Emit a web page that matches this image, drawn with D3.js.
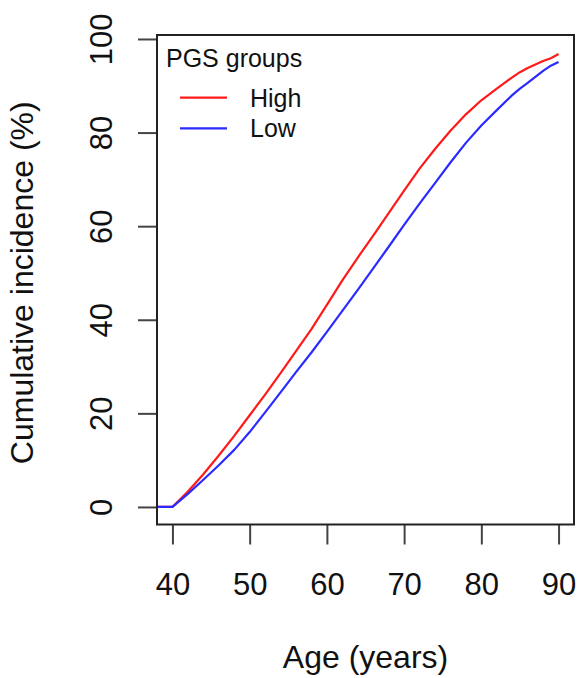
<!DOCTYPE html>
<html>
<head>
<meta charset="utf-8">
<script src="https://cdn.jsdelivr.net/npm/d3@7"></script>
<style>
  body { margin: 0; background: #fff; }
  text { font-family: "Liberation Sans", Arial, sans-serif; fill: #111; }
</style>
</head>
<body>
<div class="chart"></div>
<script>
// Cumulative incidence by PGS group
const ages = [38, 40, 42, 44, 46, 48, 50, 52, 54, 56, 58, 60, 62, 64, 66, 68, 70, 72, 74, 76, 78, 80, 82, 84, 85, 86, 88, 89, 90];
const highValues = [0, 0, 3.3, 7.0, 11.0, 15.2, 19.6, 24.0, 28.6, 33.3, 38.0, 43.2, 48.4, 53.3, 58.0, 62.8, 67.6, 72.3, 76.5, 80.4, 83.9, 86.9, 89.4, 91.8, 92.9, 93.8, 95.3, 95.9, 96.8];
const lowValues  = [0, 0, 2.8, 5.8, 8.9, 12.2, 16.0, 20.2, 24.5, 28.8, 33.0, 37.4, 41.9, 46.4, 51.0, 55.6, 60.3, 64.8, 69.2, 73.6, 77.8, 81.5, 84.8, 88.0, 89.4, 90.6, 93.2, 94.3, 95.1];
const groups = ["High", "Low"];
const groupColors = ["#ff1a1a", "#2b2bff"];
const xTicks = [40, 50, 60, 70, 80, 90];
const yTicks = [0, 20, 40, 60, 80, 100];

const width = 580;
const height = 678;
const box = {left: 157, right: 574, top: 35, bottom: 524.5};

const svg = d3.select('.chart')
    .append('svg')
    .attr('width', width)
    .attr('height', height);

// R style scales (4% padding each side)
const xScale = d3.scaleLinear()
    .domain([38, 92])
    .range([box.left, box.right]);

const yScale = d3.scaleLinear()
    .domain([-3.75, 100.85])
    .range([box.bottom, box.top]);

svg.append('clipPath')
    .attr('id', 'plotclip')
    .append('rect')
    .attr('x', box.left)
    .attr('y', box.top)
    .attr('width', box.right - box.left)
    .attr('height', box.bottom - box.top);

// curves
const series = [highValues, lowValues];
const line = d3.line()
    .x((d, i) => xScale(ages[i]))
    .y(d => yScale(d));

series.forEach(function(vals, k) {
    svg.append('path')
        .datum(vals)
        .attr('d', line)
        .attr('fill', 'none')
        .attr('stroke', groupColors[k])
        .attr('stroke-width', 2.2)
        .attr('stroke-linejoin', 'round')
        .attr('clip-path', 'url(#plotclip)');
});

// axes
const xAxis = d3.axisBottom(xScale)
    .tickValues(xTicks)
    .tickSize(20)
    .tickSizeOuter(0)
    .tickPadding(2);

const gx = svg.append('g')
    .attr('transform', `translate(0,${box.bottom})`)
    .call(xAxis);
gx.select('.domain').remove();
gx.selectAll('.tick line').attr('stroke', '#444').attr('stroke-width', 2);
gx.selectAll('.tick text')
    .attr('y', 70)
    .attr('dy', null)
    .attr('font-size', 31)
    .attr('font-family', '"Liberation Sans", Arial, sans-serif')
    .attr('fill', '#111');

const yAxis = d3.axisLeft(yScale)
    .tickValues(yTicks)
    .tickSize(19)
    .tickSizeOuter(0);

const gy = svg.append('g')
    .attr('transform', `translate(${box.left},0)`)
    .call(yAxis);
gy.select('.domain').remove();
gy.selectAll('.tick line').attr('stroke', '#444').attr('stroke-width', 2);
gy.selectAll('.tick text')
    .attr('x', null)
    .attr('dy', null)
    .attr('transform', 'translate(-45,0) rotate(-90)')
    .attr('text-anchor', 'middle')
    .attr('font-size', 31)
    .attr('font-family', '"Liberation Sans", Arial, sans-serif')
    .attr('fill', '#111');

// plot box
svg.append('rect')
    .attr('x', box.left)
    .attr('y', box.top)
    .attr('width', box.right - box.left)
    .attr('height', box.bottom - box.top)
    .attr('fill', 'none')
    .attr('stroke', '#222')
    .attr('stroke-width', 2);

// axis titles
svg.append('text')
    .attr('x', (box.left + box.right) / 2)
    .attr('y', 668)
    .attr('text-anchor', 'middle')
    .attr('font-size', 32)
    .text('Age (years)');

svg.append('text')
    .attr('transform', `translate(33,${(box.top + box.bottom) / 2 + 3}) rotate(-90)`)
    .attr('text-anchor', 'middle')
    .attr('font-size', 32)
    .text('Cumulative incidence (%)');

// legend
svg.append('text')
    .attr('x', 166)
    .attr('y', 67)
    .attr('font-size', 25)
    .text('PGS groups');

groups.forEach(function(g, k) {
    const ly = 97.7 + k * 30.6;
    svg.append('line')
        .attr('x1', 180)
        .attr('x2', 227)
        .attr('y1', ly)
        .attr('y2', ly)
        .attr('stroke', groupColors[k])
        .attr('stroke-width', 2.2);
    svg.append('text')
        .attr('x', 250)
        .attr('y', ly + 9)
        .attr('font-size', 25)
        .text(g);
});
</script>
</body>
</html>
